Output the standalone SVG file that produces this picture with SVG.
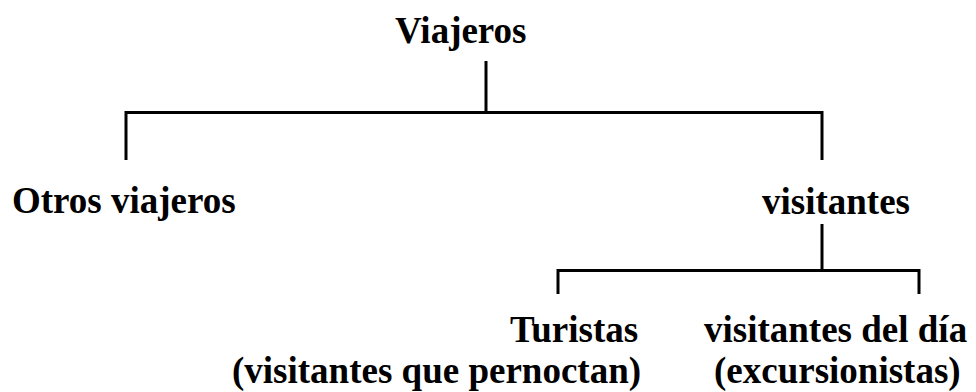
<svg xmlns="http://www.w3.org/2000/svg" width="976" height="392" viewBox="0 0 976 392">
<style>
text { font-family: "Liberation Serif", "Times New Roman", serif; font-weight: bold; font-size: 37px; fill: #000; }
.c { fill: none; stroke: #000; stroke-width: 3; stroke-linejoin: miter; stroke-linecap: butt; }
</style>
<rect width="976" height="392" fill="#fff"/>
<g id="connectors">
<path class="c" d="M486,61 V111"/>
<path class="c" d="M126,160 V112.5 H822 V160"/>
<path class="c" d="M822,224 V270"/>
<path class="c" d="M558,294 V270.5 H919 V294"/>
</g>
<g id="viajeros"><text x="395" y="43">Viajeros</text></g>
<g id="otros-viajeros"><text x="12" y="213">Otros viajeros</text></g>
<g id="visitantes"><text x="762" y="214">visitantes</text></g>
<g id="turistas">
<text x="510" y="342">Turistas</text>
<text x="232" y="383">(visitantes que pernoctan)</text>
</g>
<g id="visitantes-del-dia">
<text x="704" y="342">visitantes del día</text>
<text x="714" y="383">(excursionistas)</text>
</g>
</svg>
